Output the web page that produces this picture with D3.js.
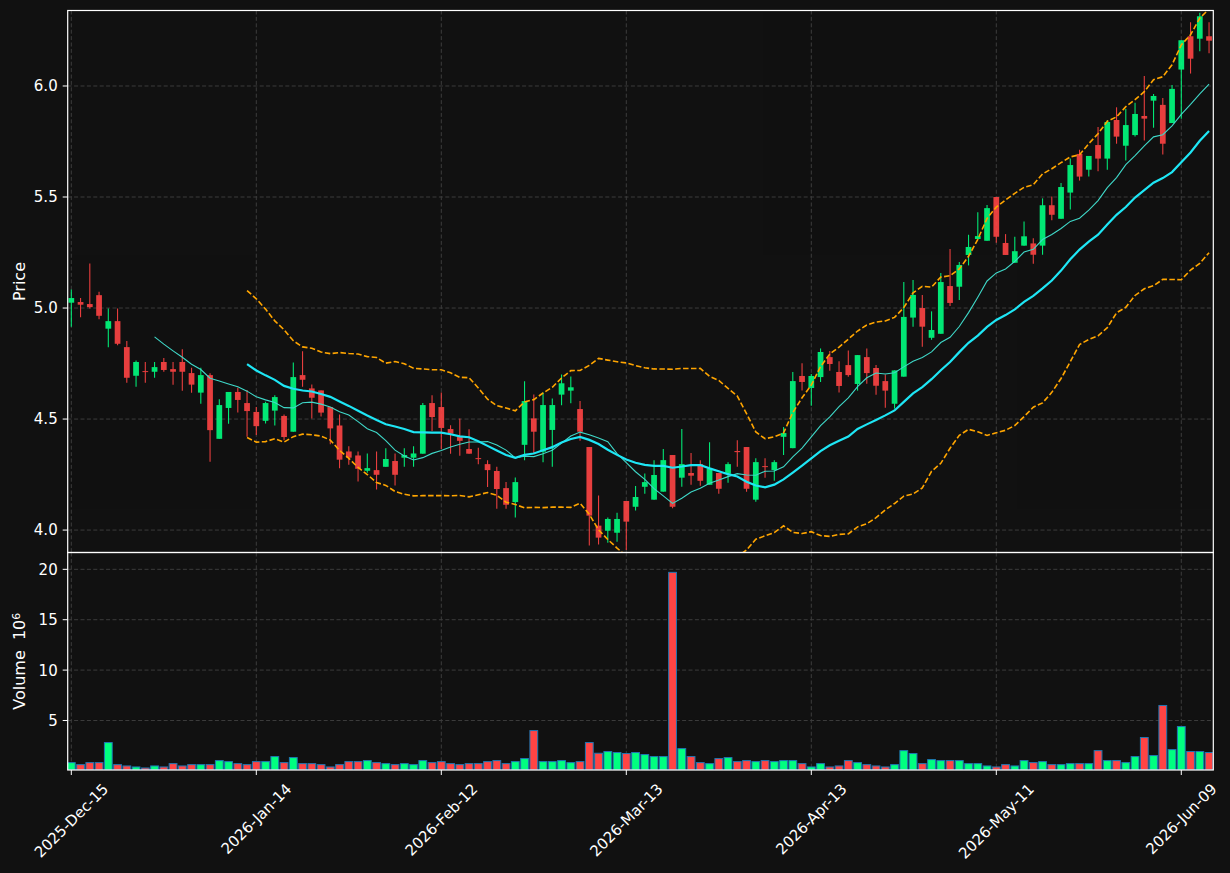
<!DOCTYPE html>
<html><head><meta charset="utf-8">
<script src="https://cdn.jsdelivr.net/npm/d3@7"></script>
<style>
html,body{margin:0;padding:0;background:#111111;}
svg{display:block;font-family:"DejaVu Sans",sans-serif;}
</style></head><body>
<svg id="chart" width="1230" height="873"></svg>
<script>
// ---------------- data ----------------
const opens = [5.024,5.027,5.018,5.058,4.907,4.941,4.824,4.695,4.716,4.713,
4.757,4.725,4.757,4.707,4.619,4.698,4.411,4.550,4.622,4.572,
4.532,4.492,4.538,4.514,4.443,4.698,4.638,4.629,4.554,4.471,
4.354,4.336,4.267,4.270,4.285,4.311,4.326,4.326,4.344,4.572,
4.554,4.455,4.419,4.365,4.324,4.297,4.266,4.189,4.126,4.384,
4.503,4.353,4.451,4.610,4.628,4.545,4.374,4.020,3.997,3.988,
4.131,4.105,4.195,4.137,4.173,4.338,4.236,4.257,4.297,4.204,
4.257,4.254,4.356,4.374,4.137,4.288,4.270,4.420,4.369,4.694,
4.640,4.689,4.779,4.712,4.743,4.658,4.779,4.730,4.671,4.569,
4.691,4.957,5.000,4.866,4.884,5.099,5.096,5.239,5.311,5.303,
5.500,5.293,5.204,5.281,5.291,5.281,5.463,5.402,5.520,5.694,
5.623,5.734,5.673,5.847,5.731,5.779,5.865,5.934,5.915,5.833,
6.074,6.224,6.213,6.224];
const highs = [5.084,5.045,5.201,5.073,4.998,4.998,4.851,4.764,4.757,4.757,
4.775,4.757,4.814,4.731,4.731,4.706,4.589,4.622,4.641,4.631,
4.554,4.578,4.607,4.521,4.755,4.805,4.656,4.629,4.554,4.521,
4.377,4.354,4.345,4.354,4.368,4.345,4.368,4.377,4.572,4.607,
4.620,4.472,4.503,4.454,4.371,4.314,4.285,4.216,4.237,4.670,
4.611,4.620,4.593,4.701,4.692,4.581,4.374,4.156,4.057,4.078,
4.131,4.198,4.255,4.315,4.365,4.338,4.455,4.347,4.315,4.396,
4.257,4.306,4.405,4.374,4.324,4.324,4.315,4.464,4.712,4.751,
4.703,4.818,4.806,4.760,4.809,4.788,4.818,4.743,4.701,4.719,
5.117,5.126,5.059,4.985,5.158,5.266,5.207,5.330,5.431,5.464,
5.500,5.333,5.321,5.390,5.314,5.494,5.502,5.563,5.673,5.713,
5.685,5.815,5.847,5.904,5.896,5.925,6.045,5.964,5.946,6.005,
6.206,6.287,6.330,6.287];
const lows = [4.916,4.958,4.998,4.949,4.823,4.832,4.664,4.646,4.664,4.686,
4.713,4.655,4.628,4.619,4.569,4.308,4.411,4.479,4.530,4.420,
4.428,4.480,4.471,4.404,4.443,4.646,4.503,4.511,4.386,4.278,
4.294,4.219,4.258,4.183,4.285,4.201,4.285,4.285,4.344,4.446,
4.365,4.344,4.335,4.344,4.296,4.194,4.096,4.096,4.057,4.314,
4.344,4.305,4.285,4.562,4.571,4.402,3.931,3.935,3.943,3.947,
3.910,4.088,4.164,4.137,4.173,4.098,4.195,4.204,4.200,4.204,
4.164,4.213,4.285,4.173,4.128,4.236,4.222,4.338,4.369,4.629,
4.560,4.667,4.718,4.620,4.691,4.628,4.659,4.610,4.551,4.547,
4.691,4.916,4.826,4.857,4.884,5.009,5.036,5.192,5.311,5.303,
5.294,5.239,5.203,5.281,5.200,5.240,5.395,5.402,5.444,5.574,
5.592,5.616,5.623,5.740,5.664,5.772,5.755,5.812,5.691,5.833,
5.853,6.056,6.156,6.147];
const closes = [5.045,5.015,5.004,4.965,4.941,4.839,4.686,4.757,4.713,4.734,
4.721,4.713,4.713,4.655,4.698,4.450,4.563,4.622,4.586,4.536,
4.468,4.572,4.599,4.419,4.689,4.677,4.596,4.529,4.458,4.317,
4.326,4.276,4.279,4.249,4.320,4.249,4.338,4.345,4.563,4.509,
4.460,4.434,4.402,4.344,4.320,4.270,4.185,4.114,4.216,4.581,
4.443,4.563,4.563,4.661,4.643,4.443,4.065,3.966,4.050,4.050,
4.038,4.149,4.216,4.248,4.315,4.105,4.297,4.245,4.222,4.276,
4.186,4.297,4.351,4.186,4.306,4.284,4.306,4.437,4.671,4.667,
4.694,4.802,4.748,4.649,4.698,4.788,4.707,4.650,4.628,4.719,
4.960,5.059,4.916,4.901,5.117,5.023,5.194,5.275,5.324,5.450,
5.321,5.239,5.256,5.323,5.240,5.463,5.420,5.545,5.644,5.592,
5.685,5.673,5.838,5.772,5.824,5.874,5.853,5.955,5.740,5.987,
6.206,6.123,6.314,6.204];
// volume in millions (axis shows x10^6)
const volumes = [0.82,0.62,0.82,0.82,2.81,0.62,0.49,0.39,0.29,0.49,
0.39,0.72,0.49,0.62,0.62,0.62,1.02,0.92,0.72,0.62,
0.92,0.92,1.42,0.82,1.32,0.72,0.72,0.62,0.39,0.62,
0.92,0.92,1.02,0.82,0.72,0.62,0.72,0.62,1.02,0.82,
0.92,0.72,0.62,0.72,0.72,0.92,1.02,0.72,0.92,1.22,
4.00,0.92,0.92,1.02,0.82,0.92,2.81,1.75,1.92,1.82,
1.72,1.82,1.62,1.42,1.42,19.70,2.21,1.42,0.82,0.72,
1.22,1.32,0.92,1.02,0.92,1.02,0.92,1.02,1.02,0.72,
0.39,0.72,0.39,0.49,1.02,0.82,0.62,0.49,0.39,0.62,
2.01,1.72,0.72,1.12,1.02,1.02,1.02,0.72,0.72,0.49,
0.39,0.62,0.49,1.02,0.82,0.92,0.62,0.62,0.72,0.72,
0.72,2.01,1.02,1.02,0.82,1.42,3.31,1.52,6.49,2.11,
4.40,1.92,1.92,1.82];
const tickIndex = [0,20,40,60,80,100,120];
const tickLabels = ["2025-Dec-15","2026-Jan-14","2026-Feb-12","2026-Mar-13","2026-Apr-13","2026-May-11","2026-Jun-09"];
const priceTicks = [4.0,4.5,5.0,5.5,6.0];
const volumeTicks = [5,10,15,20];
const maShortLen = 10, maLongLen = 20, bbLen = 20, bbK = 2;

// ---------------- derived indicators ----------------
function rollingMean(arr, n){ return arr.map((v,i)=> i<n-1 ? null : d3.mean(arr.slice(i-n+1,i+1))); }
function rollingStd(arr, n){ return arr.map((v,i)=>{ if(i<n-1) return null; const s=arr.slice(i-n+1,i+1); const m=d3.mean(s); return Math.sqrt(d3.mean(s,x=>(x-m)*(x-m))); }); }
const maShort = rollingMean(closes, maShortLen);
const maLong = rollingMean(closes, maLongLen);
const bbMid = rollingMean(closes, bbLen);
const bbSd = rollingStd(closes, bbLen);
const bbUp = bbMid.map((m,i)=> m==null?null:m+bbK*bbSd[i]);
const bbLo = bbMid.map((m,i)=> m==null?null:m-bbK*bbSd[i]);

// ---------------- layout ----------------
const W=1230, H=873;
const L=67.7, R=1213.3, T=10.5, MID=552.5, B=770;
const UP='#00ff80', DOWN='#ff4444';
const FS=15;

const svg = d3.select('#chart');
svg.append('rect').attr('width',W).attr('height',H).attr('fill','#111111');

const x = d3.scaleLinear().domain([-0.39, 123.46]).range([L, R]);
const step = x(1)-x(0);
const yP = d3.scaleLinear().domain([3.899, 6.340]).range([MID, T]);
const yV = d3.scaleLinear().domain([0.3*d3.min(volumes), 1.1*d3.max(volumes)]).range([B, MID]);

const defs = svg.append('defs');
defs.append('clipPath').attr('id','clipP').append('rect').attr('x',L).attr('y',T).attr('width',R-L).attr('height',MID-T);
defs.append('clipPath').attr('id','clipV').append('rect').attr('x',L).attr('y',MID).attr('width',R-L).attr('height',B-MID);

// grid
const grid = svg.append('g').attr('stroke','#3c3c3c').attr('stroke-width',1).attr('stroke-dasharray','4,2.4');
grid.selectAll('.hp').data(priceTicks).join('line').attr('x1',L).attr('x2',R).attr('y1',d=>yP(d)).attr('y2',d=>yP(d));
grid.selectAll('.hv').data(volumeTicks).join('line').attr('class','hv').attr('x1',L).attr('x2',R).attr('y1',d=>yV(d)).attr('y2',d=>yV(d));
grid.selectAll('.vp').data(tickIndex).join('line').attr('class','vp').attr('x1',d=>x(d)).attr('x2',d=>x(d)).attr('y1',T).attr('y2',MID);
grid.selectAll('.vv').data(tickIndex).join('line').attr('class','vv').attr('x1',d=>x(d)).attr('x2',d=>x(d)).attr('y1',MID).attr('y2',B);

// candles
const idx = d3.range(closes.length);
const cg = svg.append('g').attr('clip-path','url(#clipP)').attr('opacity',0.9);
const colorOf = i => closes[i] >= opens[i] ? UP : DOWN;
cg.selectAll('line.wick').data(idx).join('line').attr('class','wick')
  .attr('x1',i=>x(i)).attr('x2',i=>x(i)).attr('y1',i=>yP(highs[i])).attr('y2',i=>yP(lows[i]))
  .attr('stroke',colorOf).attr('stroke-width',1.1);
const bw = 0.62*step;
cg.selectAll('rect.body').data(idx).join('rect').attr('class','body')
  .attr('x',i=>x(i)-bw/2).attr('width',bw)
  .attr('y',i=>yP(Math.max(opens[i],closes[i])))
  .attr('height',i=>Math.max(1, Math.abs(yP(opens[i])-yP(closes[i]))))
  .attr('fill',colorOf);

// indicator lines
const lg = svg.append('g').attr('clip-path','url(#clipP)').attr('fill','none');
const mkLine = arr => d3.line().defined(i=>arr[i]!=null).x(i=>x(i)).y(i=>yP(arr[i]))(idx);
lg.append('path').attr('d',mkLine(maShort)).attr('stroke','#3fd8c8').attr('stroke-width',1.1);
lg.append('path').attr('d',mkLine(maLong)).attr('stroke','#1ee6f5').attr('stroke-width',2.2);
lg.append('path').attr('d',mkLine(bbUp)).attr('stroke','#ffa500').attr('stroke-width',1.6).attr('stroke-dasharray','5.5,2.4');
lg.append('path').attr('d',mkLine(bbLo)).attr('stroke','#ffa500').attr('stroke-width',1.6).attr('stroke-dasharray','5.5,2.4');

// volume bars
const vg = svg.append('g').attr('clip-path','url(#clipV)');
const vw = 7.8;
vg.selectAll('rect').data(idx).join('rect')
  .attr('x',i=>x(i)-vw/2).attr('width',vw)
  .attr('y',i=>yV(volumes[i])).attr('height',i=>B-yV(volumes[i]))
  .attr('fill',colorOf).attr('stroke','#1f77b4').attr('stroke-width',1);

// frames
svg.append('rect').attr('x',L).attr('y',T).attr('width',R-L).attr('height',MID-T).attr('fill','none').attr('stroke','#ffffff').attr('stroke-width',1.2);
svg.append('rect').attr('x',L).attr('y',MID).attr('width',R-L).attr('height',B-MID).attr('fill','none').attr('stroke','#ffffff').attr('stroke-width',1.2);

// y ticks
const tk = 5, pad = 5;
const axg = svg.append('g');
priceTicks.forEach(v=>{
  axg.append('line').attr('x1',L-tk).attr('x2',L).attr('y1',yP(v)).attr('y2',yP(v)).attr('stroke','#fff').attr('stroke-width',1);
  axg.append('text').attr('x',L-tk-pad).attr('y',yP(v)).attr('dy','0.36em').attr('text-anchor','end')
    .attr('fill','#fff').attr('font-size',FS).text(d3.format('.1f')(v));
});
volumeTicks.forEach(v=>{
  axg.append('line').attr('x1',L-tk).attr('x2',L).attr('y1',yV(v)).attr('y2',yV(v)).attr('stroke','#fff').attr('stroke-width',1);
  axg.append('text').attr('x',L-tk-pad).attr('y',yV(v)).attr('dy','0.36em').attr('text-anchor','end')
    .attr('fill','#fff').attr('font-size',FS).text(v);
});
// x ticks
tickIndex.forEach((ti,k)=>{
  const tx = x(ti);
  axg.append('line').attr('x1',tx).attr('x2',tx).attr('y1',B).attr('y2',B+tk).attr('stroke','#fff').attr('stroke-width',1);
  const t = axg.append('text').attr('text-anchor','middle').attr('dy','0.35em')
    .attr('fill','#fff').attr('font-size',FS).text(tickLabels[k]);
  const len = t.node().getComputedTextLength();
  const h = FS*1.17;
  const cy = B + tk + pad + (len + h)/(2*Math.SQRT2);
  t.attr('transform',`translate(${tx},${cy}) rotate(-45)`);
});

// axis labels
axg.append('text').attr('transform',`translate(19,${(T+MID)/2}) rotate(-90)`).attr('text-anchor','middle').attr('dy','0.35em')
  .attr('fill','#fff').attr('font-size',16).text('Price');
const vl = axg.append('text').attr('transform',`translate(19,${(MID+B)/2}) rotate(-90)`).attr('text-anchor','middle').attr('dy','0.35em')
  .attr('fill','#fff').attr('font-size',16).style('white-space','pre');
vl.append('tspan').text('Volume\u00a0\u00a010');
vl.append('tspan').attr('dy','-0.45em').attr('font-size',11).text('6');
</script>
</body></html>
